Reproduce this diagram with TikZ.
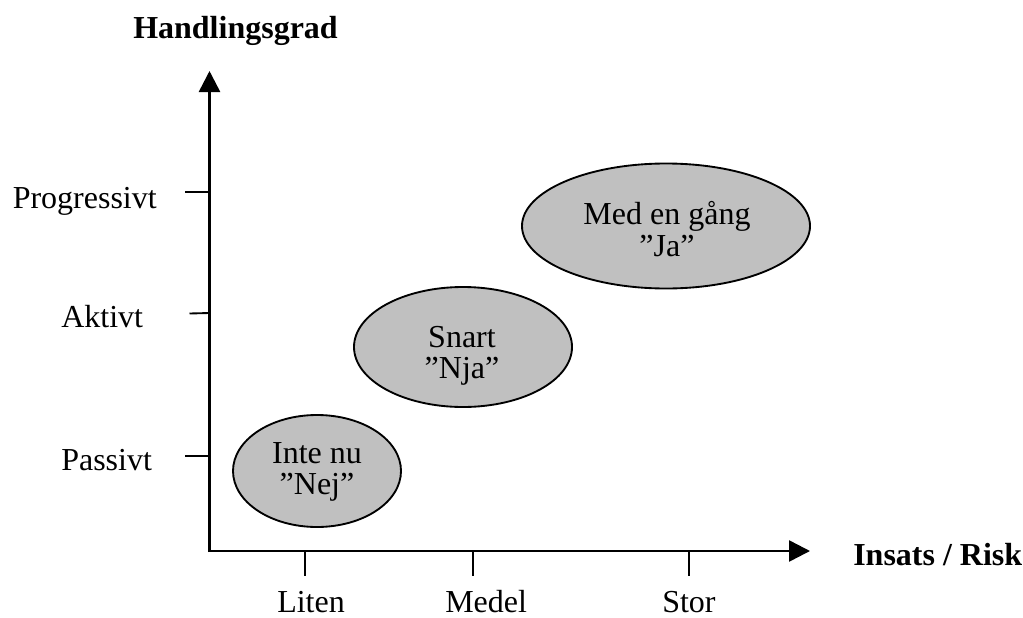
\documentclass[tikz,border=0pt]{standalone}
\usepackage{fontspec}
\setmainfont{Liberation Serif}
\usetikzlibrary{arrows.meta,shapes.geometric}
\definecolor{ellgray}{HTML}{C0C0C0}
\begin{document}
\begin{tikzpicture}[x=0.75pt,y=-0.75pt,
  every node/.style={font=\fontsize{24}{21.75}\selectfont, inner sep=0pt},
  axis/.style={line width=1.9pt, -{Triangle[length=15.75pt,width=15.75pt]}},
  tick/.style={line width=1.4pt},
  lab/.style={anchor=base west},
  blab/.style={anchor=base west, font=\fontsize{24}{28}\selectfont\bfseries},
  bubble/.style={ellipse, draw=black, line width=1.4pt, fill=ellgray, inner sep=0pt},
  btext/.style={align=center, font=\fontsize{24}{23.5}\selectfont}
]
\useasboundingbox (0,0) rectangle (1023,617);

% axes
\coordinate (O) at (209.5,551);
\coordinate (ytip) at (209.5,71);
\coordinate (xtip) at (810,551);
\draw[axis] (209.5,552) -- (ytip);
\draw[axis] (208.5,551) -- (xtip);

% y ticks
\coordinate (yt1) at (209.5,192);
\coordinate (yt2) at (209.5,313);
\coordinate (yt3) at (209.5,456);
\draw[tick] (yt1) -- ++(-25,0);
\draw[tick] (yt2) -- ++(-20,0.5);
\draw[tick] (yt3) -- ++(-25,0);

% x ticks
\coordinate (xt1) at (305,551);
\coordinate (xt2) at (473,551);
\coordinate (xt3) at (689,551);
\draw[tick] (xt1) -- ++(0,25);
\draw[tick] (xt2) -- ++(0,25);
\draw[tick] (xt3) -- ++(0,25);

% labels
\node[lab] (lprog) at (12.5,208) {Progressivt};
\node[lab] (lakt) at (61,327) {Aktivt};
\node[lab] (lpas) at (61,470) {Passivt};
\node[lab] (lliten) at (277,612) {Liten};
\node[lab] (lmedel) at (445,612) {Medel};
\node[lab] (lstor) at (662,612) {Stor};
\node[blab] (ytitle) at (133,39) {Handlingsgrad};
\node[blab] (xtitle) at (853,565) {Insats / Risk};

% bubbles
\node[bubble, minimum width=126pt, minimum height=84pt] (nej) at (317,471) {};
\node[bubble, minimum width=163.5pt, minimum height=90pt] (nja) at (463,347) {};
\node[bubble, minimum width=216pt, minimum height=93.75pt] (ja) at (666,226) {};
\node[btext] (nejtxt) at (317,472) {Inte nu\\”Nej”};
\node[btext] (njatxt) at (462,356) {Snart\\”Nja”};
\node[btext] (jatxt) at (667,229) {Med en gång\\”Ja”};
\end{tikzpicture}
\end{document}
